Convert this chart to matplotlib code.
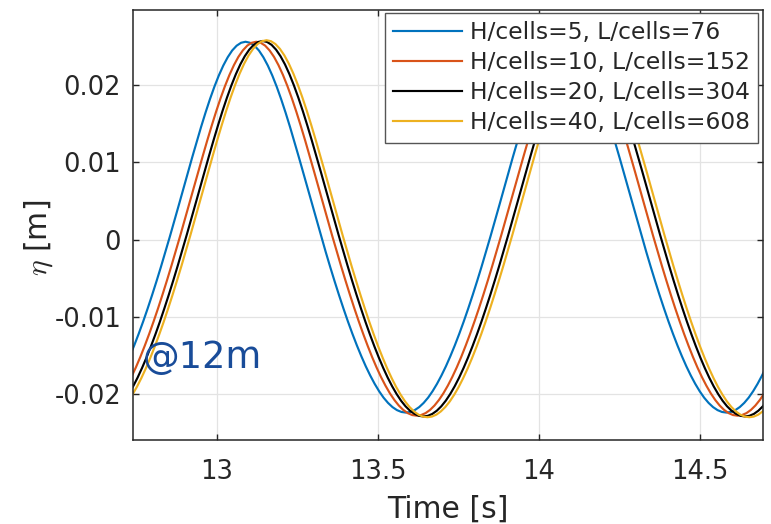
import numpy as np
import matplotlib
matplotlib.use("Agg")
import matplotlib.pyplot as plt

plt.rcParams['font.family'] = ['DejaVu Sans']
plt.rcParams['mathtext.fontset'] = 'cm'

# ---- data ----
labels = ["H/cells=5, L/cells=76", "H/cells=10, L/cells=152",
          "H/cells=20, L/cells=304", "H/cells=40, L/cells=608"]
colors = ["#0072BD", "#D95319", "#000000", "#EDB120"]

# time span of each sampled series [s]
blue_t = (12.6482, 14.7191)
orange_t = (12.6808, 14.7537)
black_t = (12.6999, 14.7770)
yellow_t = (12.7114, 14.7906)

blue_eta = [
    -0.02115, -0.02047, -0.01964, -0.01868, -0.01760, -0.01641, -0.01510, -0.01370, -0.01220, -0.01062,
    -0.00895, -0.00721, -0.00540, -0.00353, -0.00160, 0.00038, 0.00239, 0.00444, 0.00650, 0.00856,
    0.01060, 0.01260, 0.01455, 0.01641, 0.01816, 0.01978, 0.02124, 0.02252, 0.02360, 0.02447,
    0.02509, 0.02547, 0.02560,
    0.02547, 0.02509, 0.02447, 0.02360, 0.02252, 0.02124, 0.01978, 0.01816, 0.01641, 0.01455,
    0.01260, 0.01060, 0.00856, 0.00650, 0.00444, 0.00239, 0.00038, -0.00160, -0.00353, -0.00540,
    -0.00721, -0.00895, -0.01062, -0.01220, -0.01370, -0.01510, -0.01641, -0.01760, -0.01868, -0.01964,
    -0.02047, -0.02115, -0.02169, -0.02208, -0.02232, -0.02240,
    -0.02232, -0.02208, -0.02169, -0.02115, -0.02047, -0.01964, -0.01868, -0.01760, -0.01641, -0.01510,
    -0.01370, -0.01220, -0.01062, -0.00895, -0.00721, -0.00540, -0.00353, -0.00160, 0.00038, 0.00239,
    0.00444, 0.00650, 0.00856, 0.01060, 0.01260, 0.01455, 0.01641, 0.01816, 0.01978, 0.02124,
    0.02252, 0.02360, 0.02447, 0.02509, 0.02547, 0.02560,
    0.02547, 0.02509, 0.02447, 0.02360, 0.02252, 0.02124, 0.01978, 0.01816, 0.01641, 0.01455,
    0.01260, 0.01060, 0.00856, 0.00650, 0.00444, 0.00239, 0.00038, -0.00160, -0.00353, -0.00540,
    -0.00721, -0.00895, -0.01062, -0.01220, -0.01370, -0.01510, -0.01641, -0.01760, -0.01868, -0.01964,
    -0.02047, -0.02115, -0.02169, -0.02208, -0.02232, -0.02240,
    -0.02232, -0.02208, -0.02169, -0.02115, -0.02047, -0.01964, -0.01868, -0.01760, -0.01641, -0.01510]

orange_eta = [
    -0.02149, -0.02077, -0.01991, -0.01891, -0.01779, -0.01655, -0.01520, -0.01374, -0.01220, -0.01057,
    -0.00887, -0.00709, -0.00525, -0.00335, -0.00140, 0.00059, 0.00262, 0.00467, 0.00672, 0.00877,
    0.01080, 0.01279, 0.01471, 0.01655, 0.01828, 0.01987, 0.02131, 0.02257, 0.02364, 0.02448,
    0.02510, 0.02547, 0.02560,
    0.02547, 0.02510, 0.02448, 0.02364, 0.02257, 0.02131, 0.01987, 0.01828, 0.01655, 0.01471,
    0.01279, 0.01080, 0.00877, 0.00672, 0.00467, 0.00262, 0.00059, -0.00140, -0.00335, -0.00525,
    -0.00709, -0.00887, -0.01057, -0.01220, -0.01374, -0.01520, -0.01655, -0.01779, -0.01891, -0.01991,
    -0.02077, -0.02149, -0.02206, -0.02247, -0.02272, -0.02280,
    -0.02272, -0.02247, -0.02206, -0.02149, -0.02077, -0.01991, -0.01891, -0.01779, -0.01655, -0.01520,
    -0.01374, -0.01220, -0.01057, -0.00887, -0.00709, -0.00525, -0.00335, -0.00140, 0.00059, 0.00262,
    0.00467, 0.00672, 0.00877, 0.01080, 0.01279, 0.01471, 0.01655, 0.01828, 0.01987, 0.02131,
    0.02257, 0.02364, 0.02448, 0.02510, 0.02547, 0.02560,
    0.02547, 0.02510, 0.02448, 0.02364, 0.02257, 0.02131, 0.01987, 0.01828, 0.01655, 0.01471,
    0.01279, 0.01080, 0.00877, 0.00672, 0.00467, 0.00262, 0.00059, -0.00140, -0.00335, -0.00525,
    -0.00709, -0.00887, -0.01057, -0.01220, -0.01374, -0.01520, -0.01655, -0.01779, -0.01891, -0.01991,
    -0.02077, -0.02149, -0.02206, -0.02247, -0.02272, -0.02280,
    -0.02272, -0.02247, -0.02206, -0.02149, -0.02077, -0.01991, -0.01891, -0.01779, -0.01655, -0.01520]

black_eta = [
    -0.02159, -0.02087, -0.02000, -0.01900, -0.01787, -0.01662, -0.01526, -0.01380, -0.01225, -0.01062,
    -0.00890, -0.00712, -0.00527, -0.00336, -0.00140, 0.00060, 0.00263, 0.00469, 0.00676, 0.00882,
    0.01085, 0.01284, 0.01477, 0.01662, 0.01835, 0.01995, 0.02140, 0.02267, 0.02373, 0.02458,
    0.02520, 0.02557, 0.02570,
    0.02557, 0.02520, 0.02458, 0.02373, 0.02267, 0.02140, 0.01995, 0.01835, 0.01662, 0.01477,
    0.01284, 0.01085, 0.00882, 0.00676, 0.00469, 0.00263, 0.00060, -0.00140, -0.00336, -0.00527,
    -0.00712, -0.00890, -0.01062, -0.01225, -0.01380, -0.01526, -0.01662, -0.01787, -0.01900, -0.02000,
    -0.02087, -0.02159, -0.02216, -0.02257, -0.02282, -0.02290,
    -0.02282, -0.02257, -0.02216, -0.02159, -0.02087, -0.02000, -0.01900, -0.01787, -0.01662, -0.01526,
    -0.01380, -0.01225, -0.01062, -0.00890, -0.00712, -0.00527, -0.00336, -0.00140, 0.00060, 0.00263,
    0.00469, 0.00676, 0.00882, 0.01085, 0.01284, 0.01477, 0.01662, 0.01835, 0.01995, 0.02140,
    0.02267, 0.02373, 0.02458, 0.02520, 0.02557, 0.02570,
    0.02557, 0.02520, 0.02458, 0.02373, 0.02267, 0.02140, 0.01995, 0.01835, 0.01662, 0.01477,
    0.01284, 0.01085, 0.00882, 0.00676, 0.00469, 0.00263, 0.00060, -0.00140, -0.00336, -0.00527,
    -0.00712, -0.00890, -0.01062, -0.01225, -0.01380, -0.01526, -0.01662, -0.01787, -0.01900, -0.02000,
    -0.02087, -0.02159, -0.02216, -0.02257, -0.02282, -0.02290,
    -0.02282, -0.02257, -0.02216, -0.02159, -0.02087, -0.02000, -0.01900, -0.01787, -0.01662, -0.01526]

yellow_eta = [
    -0.02168, -0.02096, -0.02008, -0.01908, -0.01794, -0.01669, -0.01532, -0.01386, -0.01230, -0.01066,
    -0.00893, -0.00714, -0.00528, -0.00337, -0.00140, 0.00061, 0.00265, 0.00472, 0.00679, 0.00886,
    0.01090, 0.01290, 0.01484, 0.01669, 0.01843, 0.02004, 0.02149, 0.02276, 0.02383, 0.02468,
    0.02530, 0.02567, 0.02580,
    0.02567, 0.02530, 0.02468, 0.02383, 0.02276, 0.02149, 0.02004, 0.01843, 0.01669, 0.01484,
    0.01290, 0.01090, 0.00886, 0.00679, 0.00472, 0.00265, 0.00061, -0.00140, -0.00337, -0.00528,
    -0.00714, -0.00893, -0.01066, -0.01230, -0.01386, -0.01532, -0.01669, -0.01794, -0.01908, -0.02008,
    -0.02096, -0.02168, -0.02225, -0.02267, -0.02292, -0.02300,
    -0.02292, -0.02267, -0.02225, -0.02168, -0.02096, -0.02008, -0.01908, -0.01794, -0.01669, -0.01532,
    -0.01386, -0.01230, -0.01066, -0.00893, -0.00714, -0.00528, -0.00337, -0.00140, 0.00061, 0.00265,
    0.00472, 0.00679, 0.00886, 0.01090, 0.01290, 0.01484, 0.01669, 0.01843, 0.02004, 0.02149,
    0.02276, 0.02383, 0.02468, 0.02530, 0.02567, 0.02580,
    0.02567, 0.02530, 0.02468, 0.02383, 0.02276, 0.02149, 0.02004, 0.01843, 0.01669, 0.01484,
    0.01290, 0.01090, 0.00886, 0.00679, 0.00472, 0.00265, 0.00061, -0.00140, -0.00337, -0.00528,
    -0.00714, -0.00893, -0.01066, -0.01230, -0.01386, -0.01532, -0.01669, -0.01794, -0.01908, -0.02008,
    -0.02096, -0.02168, -0.02225, -0.02267, -0.02292, -0.02300,
    -0.02292, -0.02267, -0.02225, -0.02168, -0.02096, -0.02008, -0.01908, -0.01794, -0.01669, -0.01532]

xticks = [13, 13.5, 14, 14.5]
xtick_labels = ["13", "13.5", "14", "14.5"]
yticks = [-0.02, -0.01, 0, 0.01, 0.02]
ytick_labels = ["-0.02", "-0.01", "0", "0.01", "0.02"]
xlim = (12.741, 14.6945)
ylim = (-0.02595, 0.02971)

# ---- figure ----
fig = plt.figure(figsize=(7.71, 5.24), dpi=100)
ax = fig.add_axes([133 / 771, 1 - 440 / 524, 630 / 771, 430 / 524])

series_t = [blue_t, orange_t, black_t, yellow_t]
series_eta = [blue_eta, orange_eta, black_eta, yellow_eta]
for (t0, t1), eta, c, lab in zip(series_t, series_eta, colors, labels):
    t = np.linspace(t0, t1, len(eta))
    ax.plot(t, eta, color=c, lw=1.55, label=lab, solid_joinstyle='round')

ax.set_xlim(*xlim)
ax.set_ylim(*ylim)
ax.set_xticks(xticks)
ax.set_xticklabels(xtick_labels)
ax.set_yticks(yticks)
ax.set_yticklabels(ytick_labels)

txtc = "#262626"
ax.grid(True, color="#e3e3e3", lw=0.9)
ax.set_axisbelow(True)
for s in ax.spines.values():
    s.set_color(txtc)
    s.set_linewidth(1.1)
ax.tick_params(axis='both', which='both', direction='in', length=4.5, width=1.0,
               colors=txtc, top=True, right=True, labelsize=18.5)
ax.tick_params(axis='x', pad=13.5)
ax.tick_params(axis='y', pad=8.5)

ax.set_xlabel("Time [s]", fontsize=21.5, color=txtc)
ax.xaxis.set_label_coords(0.5, -0.128)
ax.set_ylabel(r"$\eta$ [m]", fontsize=21.5, color=txtc)
ax.yaxis.set_label_coords(-0.124, 0.47)

ax.text(0.016, 0.167, "@12m", transform=ax.transAxes, fontsize=26.5,
        color="#194C99", ha="left", va="baseline")

leg = ax.legend(loc="upper right", bbox_to_anchor=(0.9925, 0.9923),
                borderaxespad=0, fontsize=16.8, handlelength=2.95,
                handletextpad=0.35, labelspacing=0.3, borderpad=0.35,
                fancybox=False, framealpha=1.0, edgecolor="#555555")
leg.get_frame().set_linewidth(1.0)
for tx in leg.get_texts():
    tx.set_color(txtc)

fig.savefig("out.png", dpi=100)
